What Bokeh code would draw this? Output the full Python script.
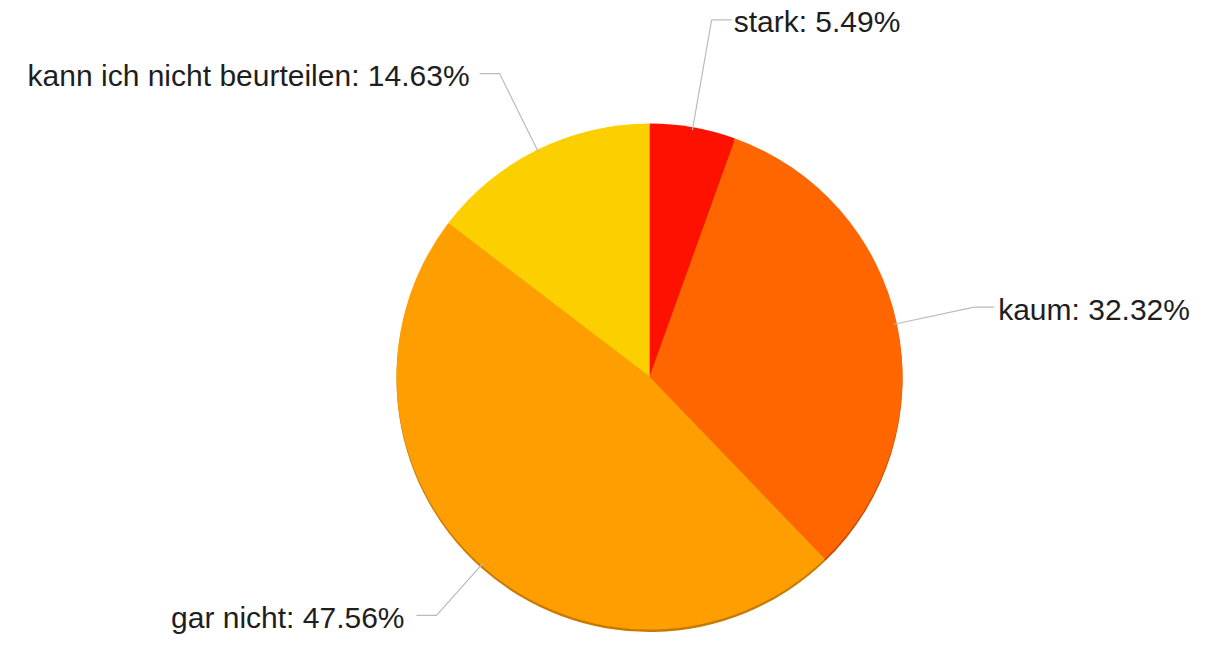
import numpy as np
from bokeh.plotting import figure
from bokeh.models import Range1d, ColumnDataSource
from bokeh.core.properties import value
from bokeh.embed import file_html
from bokeh.resources import INLINE

# ---- data ----
categories = ["stark", "kaum", "gar nicht", "kann ich nicht beurteilen"]
percents = [5.49, 32.32, 47.56, 14.63]
colors = ["#FF1100", "#FF6600", "#FF9E00", "#FCD000"]
shadow_colors = ["#C00C00", "#C44C00", "#C87A00", "#C4A000"]

# ---- layout (pixel-like data space) ----
W, H = 1197, 635
TOTAL_H = 651
cx, cy = 649, TOTAL_H - 376
R = 253
elbow_r = [362, 332, 320, 338]
gaps = [2, 4, 12, 10]
arm = 20

p = figure(width=W, height=H, output_backend="svg", toolbar_location=None,
           x_range=Range1d(0, W), y_range=Range1d(TOTAL_H - H, TOTAL_H),
           min_border=0, match_aspect=False)
p.axis.visible = False
p.grid.visible = False
p.outline_line_color = None
p.background_fill_color = "white"
p.border_fill_color = "white"

vals = np.array(percents, dtype=float)
frac = vals / vals.sum()
cum = np.concatenate([[0.0], np.cumsum(frac)])
start = np.pi / 2 - 2 * np.pi * cum[:-1]
end = np.pi / 2 - 2 * np.pi * cum[1:]
mid = (start + end) / 2

src = ColumnDataSource(dict(cat=categories, start=start, end=end,
                            color=colors, shadow=shadow_colors,
                            x=[cx] * 4, y=[cy] * 4, ys=[cy - 2.5] * 4))

p.wedge(x="x", y="ys", radius=R, start_angle="start", end_angle="end",
        direction="clock", fill_color="shadow", line_color=None, source=src)
p.wedge(x="x", y="y", radius=R, start_angle="start", end_angle="end",
        direction="clock", fill_color="color", line_color=None, source=src)

xs, ys, tx, ty, ta, labels = [], [], [], [], [], []
for i, cat in enumerate(categories):
    a = mid[i]
    x0, y0 = cx + (R - 3) * np.cos(a), cy + (R - 3) * np.sin(a)
    x1, y1 = cx + elbow_r[i] * np.cos(a), cy + elbow_r[i] * np.sin(a)
    side = 1 if np.cos(a) >= 0 else -1
    x2 = x1 + side * arm
    xs.append([x0, x1, x2])
    ys.append([y0, y1, y1])
    tx.append(x2 + side * gaps[i])
    ty.append(y1 - 2)
    ta.append("left" if side > 0 else "right")
    labels.append(f"{cat}: {percents[i]:.2f}%")

p.multi_line(xs=xs, ys=ys, line_color="#BBBBBB", line_width=1.2)

tsrc = ColumnDataSource(dict(x=tx, y=ty, t=labels, align=ta))
p.text(x="x", y="y", text="t", text_align="align", text_baseline="middle",
       text_font=value("Liberation Sans"), text_font_size="30px",
       text_color="#1E1E1E", source=tsrc)

open("out.html", "w").write(file_html(p, INLINE))
